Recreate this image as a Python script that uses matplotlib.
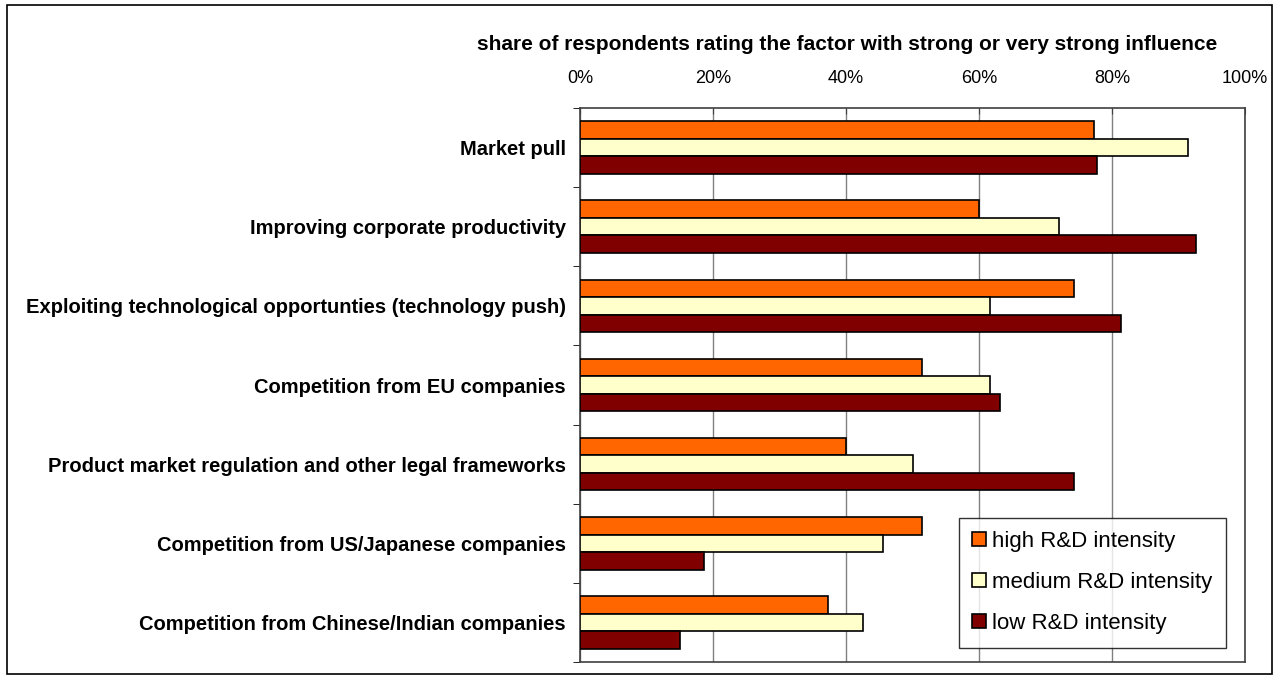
import numpy as np
import matplotlib.pyplot as plt
from matplotlib.patches import Rectangle

plt.rcParams['font.family'] = ['Liberation Sans', 'DejaVu Sans']

# Data (share of respondents, %)
factors = [
    "Market pull",
    "Improving corporate productivity",
    "Exploiting technological opportunties (technology push)",
    "Competition from EU companies",
    "Product market regulation and other legal frameworks",
    "Competition from US/Japanese companies",
    "Competition from Chinese/Indian companies",
]
high_rd = [77.3, 60.0, 74.3, 51.4, 40.0, 51.4, 37.3]
medium_rd = [91.4, 72.0, 61.7, 61.7, 50.0, 45.5, 42.6]
low_rd = [77.8, 92.6, 81.4, 63.1, 74.3, 18.7, 15.0]
series_names = ["high R&D intensity", "medium R&D intensity", "low R&D intensity"]
colors = ["#FF6600", "#FFFFCC", "#800000"]

W, H = 1274, 675
fig = plt.figure(figsize=(W / 100, H / 100), dpi=100)
ax = fig.add_axes([580 / W, 1 - 662 / H, 665 / W, 554 / H])

# outer frame of the chart
fig.patches.append(Rectangle((7 / W, 1 / H), 1265 / W, 669 / H,
                             transform=fig.transFigure, fill=False,
                             edgecolor="black", linewidth=1.2))

y = np.arange(len(factors))
h = 0.222
for i, (vals, name, c) in enumerate(zip([high_rd, medium_rd, low_rd], series_names, colors)):
    ax.barh(y + (i - 1) * h, vals, height=h, color=c, edgecolor="black",
            linewidth=1.2, label=name, zorder=3)

ax.set_xlim(0, 100)
ax.set_ylim(len(factors) - 0.5, -0.5)
ax.xaxis.tick_top()
ax.set_xticks(np.arange(0, 101, 20))
ax.set_xticklabels([f"{v}%" for v in range(0, 101, 20)], fontsize=13)
ax.tick_params(axis="x", length=4, direction="in", pad=15, color="#404040")
ax.grid(axis="x", color="#808080", linewidth=1, zorder=0)

ax.set_yticks(y)
ax.set_yticklabels(factors, fontsize=14.5, fontweight="bold")
ax.tick_params(axis="y", length=0, pad=10)
ax.set_yticks(np.arange(-0.5, len(factors), 1), minor=True)
ax.tick_params(axis="y", which="minor", length=5, direction="out")

for s in ax.spines.values():
    s.set_color("#404040")
    s.set_linewidth(1.2)

fig.text(847 / W, 1 - 45 / H,
         "share of respondents rating the factor with strong or very strong influence",
         ha="center", va="center", fontsize=15, fontweight="bold")

leg = ax.legend(loc="lower right", bbox_to_anchor=(0.988, 0.006), fontsize=16,
                frameon=True, fancybox=False, edgecolor="black",
                handlelength=0.6, handleheight=0.6, labelspacing=0.9,
                borderpad=0.6, handletextpad=0.3)
leg.get_frame().set_linewidth(1)

fig.savefig("out.png", dpi=100)
